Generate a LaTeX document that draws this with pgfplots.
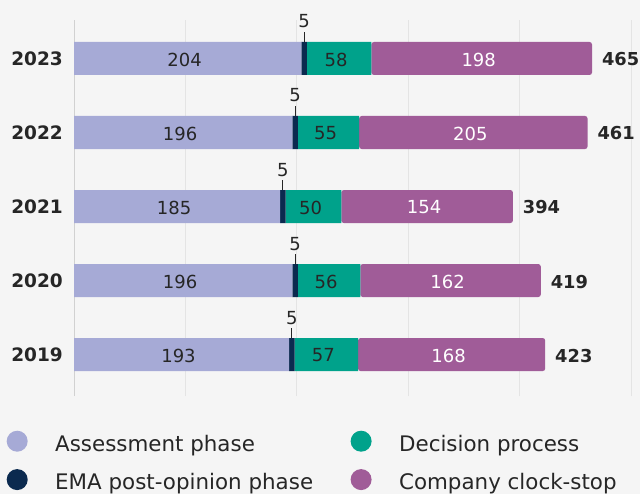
\documentclass[border=0pt]{standalone}
\usepackage{pgfplots}
\pgfplotsset{compat=1.18}
\usepackage{fontspec}
\setmainfont{DejaVu Sans}
\definecolor{bgc}{HTML}{F5F5F5}
\definecolor{cA}{HTML}{A6AAD6}
\definecolor{cE}{HTML}{0B2A4F}
\definecolor{cD}{HTML}{00A28B}
\definecolor{cC}{HTML}{A05C98}
\definecolor{txt}{HTML}{262626}
\definecolor{grd}{HTML}{E4E4E4}
\newcommand\fnum{\fontsize{18bp}{21bp}\selectfont}
\newcommand\fyear{\bfseries\fontsize{18.5bp}{21bp}\selectfont}
\newcommand\fleg{\fontsize{21.4bp}{25bp}\selectfont}
\pgfplotsset{
  base/.style={
    at={(74bp,98bp)}, anchor=south west, scale only axis,
    width=557bp, height=376bp,
    xmin=0, xmax=500, ymin=-0.56, ymax=4.52,
    axis line style={draw=none},
    major tick length=0pt,
    clip=false,
  },
  lab/.style={draw=none, nodes near coords, point meta=explicit symbolic},
}
\begin{document}
\begin{tikzpicture}
\fill[bgc] (0,0) rectangle (640bp,494bp);
\begin{axis}[base,
  xbar stacked, bar width=33bp,
  xtick={100,200,...,500}, xticklabels={},
  extra x ticks={0}, extra x tick labels={},
  extra x tick style={grid style={draw=black!18, line width=1bp}},
  xmajorgrids, grid style={grd, line width=1bp},
  ytick={0,1,2,3,4}, yticklabels={2019,2020,2021,2022,2023},
  yticklabel style={font=\fyear, text=txt, inner sep=0pt, anchor=east, xshift=-11bp},
  legend columns=2, transpose legend,
  legend cell align=left,
  legend style={at={(-0.1212,-0.0918)}, anchor=north west, draw=none, fill=none,
    inner sep=0pt, font=\fleg, text=txt, row sep=16.5bp, nodes={inner sep=0pt},
    /tikz/every odd column/.append style={column sep=27.5bp},
    /tikz/every even column/.append style={column sep=37.5bp}},
]
\addplot[fill=cA, draw=none, legend image code/.code={\fill[cA] (10.5bp,2.5bp) circle (10.5bp);}]
  coordinates {(193,0) (196,1) (185,2) (196,3) (204,4)};
\addlegendentry{Assessment phase}
\addplot[fill=cE, draw=none, legend image code/.code={\fill[cE] (10.5bp,2.5bp) circle (10.5bp);}]
  coordinates {(5,0) (5,1) (5,2) (5,3) (5,4)};
\addlegendentry{EMA post-opinion phase}
\addplot[fill=cD, draw=none, legend image code/.code={\fill[cD] (10.5bp,2.5bp) circle (10.5bp);}]
  coordinates {(57,0) (56,1) (50,2) (55,3) (58,4)};
\addlegendentry{Decision process}
\addplot[fill=cC, draw=none, rounded corners=2.5bp, legend image code/.code={\fill[cC] (10.5bp,2.5bp) circle (10.5bp);}]
  coordinates {(168,0) (162,1) (154,2) (205,3) (198,4)};
\addlegendentry{Company clock-stop}
\end{axis}
\begin{axis}[base, hide axis]
\addplot[lab, every node near coord/.append style={anchor=center, font=\fnum, text=txt, xshift=-3bp, yshift=-1bp}]
  coordinates {(96.5,0)[193] (98,1)[196] (92.5,2)[185] (98,3)[196] (102,4)[204]
               (226.5,0)[57] (229,1)[56] (215,2)[50] (228.5,3)[55] (238,4)[58]};
\addplot[lab, every node near coord/.append style={anchor=center, font=\fnum, text=white, xshift=-3bp, yshift=-1bp}]
  coordinates {(339,0)[168] (338,1)[162] (317,2)[154] (358.5,3)[205] (366,4)[198]};
\addplot[lab, every node near coord/.append style={anchor=base, font=\fnum, text=txt, yshift=30.5bp}]
  coordinates {(195.5,0)[5] (198.5,1)[5] (187.5,2)[5] (198.5,3)[5] (206.5,4)[5]};
\addplot[lab, every node near coord/.append style={anchor=west, font=\bfseries\fontsize{17.8bp}{21bp}\selectfont, text=txt, xshift=6.5bp, yshift=-1bp}]
  coordinates {(423,0)[423] (419,1)[419] (394,2)[394] (461,3)[461] (465,4)[465]};
\addplot[txt, line width=0.8bp, unbounded coords=jump]
  coordinates {(195.5,0.223) (195.5,0.358) (195.5,nan)
               (198.5,1.223) (198.5,1.358) (198.5,nan)
               (187.5,2.223) (187.5,2.358) (187.5,nan)
               (198.5,3.223) (198.5,3.358) (198.5,nan)
               (206.5,4.223) (206.5,4.358)};
\end{axis}
\pgfresetboundingbox
\useasboundingbox (0,0) rectangle (640bp,494bp);
\end{tikzpicture}
\end{document}
